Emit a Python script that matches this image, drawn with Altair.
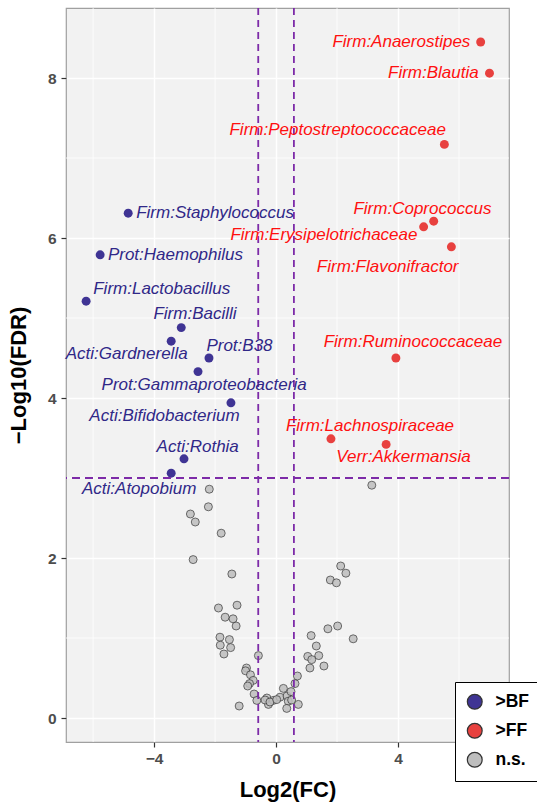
import altair as alt
import pandas as pd

# ---- significant taxa ----
sig_names = ["Firm:Staphylococcus", "Prot:Haemophilus", "Firm:Lactobacillus", "Firm:Bacilli",
             "Acti:Gardnerella", "Prot:B38", "Prot:Gammaproteobacteria", "Acti:Bifidobacterium",
             "Acti:Rothia", "Acti:Atopobium",
             "Firm:Anaerostipes", "Firm:Blautia", "Firm:Peptostreptococcaceae", "Firm:Coprococcus",
             "Firm:Erysipelotrichaceae", "Firm:Flavonifractor", "Firm:Ruminococcaceae",
             "Firm:Lachnospiraceae", "Verr:Akkermansia"]
sig_fc = [-4.85, -5.77, -6.23, -3.11, -3.44, -2.20, -2.56, -1.48, -3.02, -3.44,
          6.71, 7.00, 5.52, 5.17, 4.84, 5.75, 3.93, 1.80, 3.61]
sig_fdr = [6.31, 5.79, 5.21, 4.88, 4.71, 4.50, 4.33, 3.94, 3.24, 3.06,
           8.45, 8.06, 7.17, 6.21, 6.14, 5.89, 4.50, 3.49, 3.42]
sig_group = [">BF"] * 10 + [">FF"] * 9
# repelled label anchor positions (data units)
label_fc = [-2.00, -3.30, -3.75, -2.66, -4.90, -1.20, -2.36, -3.66, -2.57, -4.49,
            4.11, 5.16, 2.02, 4.80, 1.57, 3.66, 4.49, 3.08, 4.18]
label_fdr = [6.31, 5.79, 5.36, 5.05, 4.55, 4.65, 4.16, 3.775, 3.39, 2.86,
             8.45, 8.06, 7.35, 6.36, 6.04, 5.64, 4.70, 3.65, 3.26]

# ---- non-significant taxa ----
ns_fc = [-2.19, -2.22, -2.81, -2.65, -1.80, -2.72, -1.45, -1.89, -1.28, -1.67,
         -1.41, -1.31, -1.84, -1.53, -1.83, -1.49, -1.71, -0.58, -0.97, -1.00,
         -0.84, -0.75, -0.87, -0.93, -0.72, -1.21, -0.63, -0.30, -0.25, -0.09,
         0.13, 0.24, 0.36, 0.40, 0.35, 0.49, 0.62, 0.70, 0.73, -0.36,
         -0.20, 0.02, 0.51, 1.15, 1.32, 1.40, 1.04, 1.17, 1.11, 1.57,
         1.70, 2.02, 2.53, 2.12, 2.29, 1.78, 1.98, 3.14]
ns_fdr = [2.86, 2.64, 2.55, 2.45, 2.31, 1.98, 1.80, 1.375, 1.41, 1.26,
          1.24, 1.15, 1.01, 0.98, 0.91, 0.88, 0.80, 0.78, 0.625, 0.59,
          0.54, 0.47, 0.43, 0.40, 0.30, 0.15, 0.22, 0.25, 0.17, 0.22,
          0.26, 0.37, 0.275, 0.21, 0.12, 0.33, 0.43, 0.525, 0.17, 0.225,
          0.20, 0.23, 0.225, 1.03, 0.90, 0.78, 0.77, 0.73, 0.625, 0.65,
          1.115, 1.15, 0.99, 1.90, 1.81, 1.725, 1.69, 2.91]

# cut-offs
fc_cuts = [-0.585, 0.585]
fdr_cut = [3.0]

# gridlines
minor_x = [-6, -2, 2, 6]
minor_y = [1, 3, 5, 7]

groups = [">BF", ">FF", "n.s."]
group_colors = ["#3F3494", "#E8413F", "#BEBEBE"]
text_colors = {">BF": "#302888", ">FF": "#FF1010"}

FONT = "Liberation Sans"

sig_df = pd.DataFrame({"name": sig_names, "fc": sig_fc, "fdr": sig_fdr, "group": sig_group,
                       "lx": label_fc, "ly": label_fdr})
sig_df["tcolor"] = sig_df["group"].map(text_colors)
ns_df = pd.DataFrame({"fc": ns_fc, "fdr": ns_fdr, "group": ["n.s."] * len(ns_fc)})

xscale = alt.Scale(domain=[-6.89, 7.64], nice=False, zero=False)
yscale = alt.Scale(domain=[-0.3, 8.875], nice=False, zero=False)

xaxis = alt.Axis(values=[-4, 0, 4], title="Log2(FC)")
yaxis = alt.Axis(values=[0, 2, 4, 6, 8], title="\u2212Log10(FDR)")

fill_enc = alt.Fill("group:N", scale=alt.Scale(domain=groups, range=group_colors),
                    legend=alt.Legend(title=None, orient="none", legendX=389, legendY=674,
                                      fillColor="white", strokeColor="black", padding=11,
                                      symbolSize=220, symbolType="circle",
                                      symbolStrokeColor="#333333", symbolStrokeWidth=1.2,
                                      symbolOpacity=1,
                                      labelFontSize=17.5, labelFont=FONT, labelFontWeight="bold",
                                      labelColor="black", rowPadding=8, labelOffset=12))

minor_gx = alt.Chart(pd.DataFrame({"v": minor_x})).mark_rule(color="white", strokeWidth=0.8).encode(
    x=alt.X("v:Q", scale=xscale, axis=xaxis))
minor_gy = alt.Chart(pd.DataFrame({"v": minor_y})).mark_rule(color="white", strokeWidth=0.8).encode(
    y=alt.Y("v:Q", scale=yscale, axis=yaxis))

ns_pts = alt.Chart(ns_df).mark_circle(size=64, opacity=0.85, stroke="#383838",
                                      strokeWidth=1.0, strokeOpacity=0.85).encode(
    x=alt.X("fc:Q", scale=xscale, axis=xaxis),
    y=alt.Y("fdr:Q", scale=yscale, axis=yaxis),
    fill=fill_enc)

sig_pts = alt.Chart(sig_df).mark_circle(size=80, opacity=1).encode(
    x=alt.X("fc:Q", scale=xscale, axis=xaxis),
    y=alt.Y("fdr:Q", scale=yscale, axis=yaxis),
    fill=fill_enc)

vcut = alt.Chart(pd.DataFrame({"v": fc_cuts})).mark_rule(
    color="#7D2BA8", strokeWidth=1.8, strokeDash=[7, 5]).encode(
    x=alt.X("v:Q", scale=xscale, axis=xaxis))
hcut = alt.Chart(pd.DataFrame({"v": fdr_cut})).mark_rule(
    color="#7D2BA8", strokeWidth=1.8, strokeDash=[8, 5]).encode(
    y=alt.Y("v:Q", scale=yscale, axis=yaxis))

labels = alt.Chart(sig_df).mark_text(font=FONT, fontSize=17, fontStyle="italic",
                                     align="center", baseline="middle").encode(
    x=alt.X("lx:Q", scale=xscale, axis=xaxis),
    y=alt.Y("ly:Q", scale=yscale, axis=yaxis),
    text="name:N",
    color=alt.Color("tcolor:N", scale=None))

chart = alt.layer(minor_gx, minor_gy, ns_pts, sig_pts, vcut, hcut, labels).properties(
    width=443, height=734,
    padding={"left": 66, "top": 8, "right": 28, "bottom": 62},
    autosize=alt.AutoSizeParams(type="none"),
).configure_view(
    fill="#F2F2F2", stroke="#A0A0A0", strokeWidth=1.2
).configure_axis(
    grid=True, gridColor="white", gridWidth=1.5, domain=False,
    tickColor="#333333", tickSize=5, tickWidth=1.2,
    labelFont=FONT, labelFontSize=15.5, labelFontWeight="bold", labelColor="#4D4D4D",
    titleFont=FONT, titleFontSize=22, titleFontWeight="bold", titleColor="black",
).configure_axisX(
    labelPadding=4, titlePadding=13
).configure_axisY(
    labelPadding=5, titlePadding=17
)

chart.save("out.html", embed_options={"renderer": "svg", "actions": False})
